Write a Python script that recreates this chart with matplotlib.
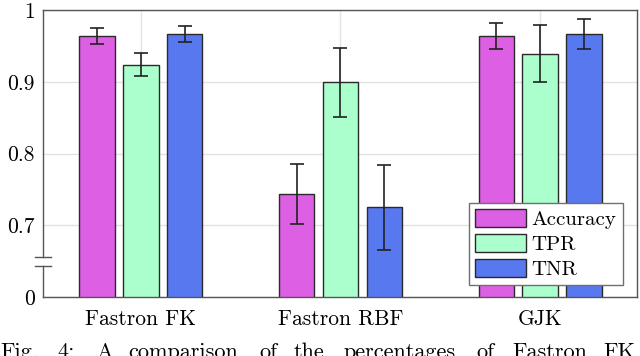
import matplotlib
matplotlib.use('Agg')
import matplotlib.pyplot as plt
import numpy as np

plt.rcParams['font.family'] = ['cmr10', 'DejaVu Serif']
plt.rcParams['axes.formatter.use_mathtext'] = True

groups = ['Fastron FK', 'Fastron RBF', 'GJK']
metrics = ['Accuracy', 'TPR', 'TNR']
accuracy = [0.964, 0.744, 0.964]
accuracy_err = [0.011, 0.042, 0.018]
tpr = [0.924, 0.899, 0.939]
tpr_err = [0.016, 0.048, 0.040]
tnr = [0.967, 0.725, 0.966]
tnr_err = [0.011, 0.059, 0.021]
colors = ['#dd5fe3', '#aaffcc', '#5878f0']

yticks = [0.6, 0.7, 0.8, 0.9, 1.0]
ytick_labels = ['0', '0.7', '0.8', '0.9', '1']

caption_words = ['Fig.', '4:', 'A', 'comparison', 'of', 'the', 'percentages',
                 'of', 'Fastron', 'FK']
caption_x = [0, 57, 96, 128, 259, 294, 343, 476, 512, 603]

fig = plt.figure(figsize=(6.4, 3.56), dpi=100)
ax = fig.add_axes([0.0672, 0.1657, 0.9281, 0.8062])

x = np.arange(len(groups))
w = 0.1775
step = 0.22
series = [(accuracy, accuracy_err), (tpr, tpr_err), (tnr, tnr_err)]
for i, (vals, errs) in enumerate(series):
    ax.bar(x + (i - 1) * step, vals, w, color=colors[i], edgecolor='#2a2a2a',
           linewidth=1.0, label=metrics[i], zorder=2)
    ax.errorbar(x + (i - 1) * step, vals, yerr=errs, fmt='none', ecolor='#222222',
                elinewidth=1.2, capsize=5, capthick=1.2, zorder=3)

ax.set_xlim(-0.49, 2.485)
ax.set_ylim(0.6, 1.0)
ax.set_yticks(yticks)
ax.set_yticklabels(ytick_labels)
ax.set_xticks(x)
ax.set_xticklabels(groups)
ax.tick_params(axis='both', length=0, labelsize=15.5)
ax.tick_params(axis='x', pad=9)
ax.tick_params(axis='y', pad=6)
ax.grid(True, color='#e2e2e2', linewidth=1.0, zorder=0)
ax.set_axisbelow(True)

for s in ['top', 'right', 'bottom']:
    ax.spines[s].set_color('#555555')
    ax.spines[s].set_linewidth(1.0)
ax.spines['left'].set_visible(False)

# broken y axis
b0, b1 = 0.1075, 0.139
ax.plot([0, 0], [0, b0], transform=ax.transAxes, color='#555555', lw=1.0, clip_on=False)
ax.plot([0, 0], [b1, 1], transform=ax.transAxes, color='#555555', lw=1.0, clip_on=False)
for yb in (b0, b1):
    ax.plot([-0.0135, 0.0135], [yb, yb], transform=ax.transAxes, color='#555555',
            lw=1.0, clip_on=False)

leg = ax.legend(loc='lower right', bbox_to_anchor=(0.976, 0.042), fontsize=15,
                frameon=True, fancybox=False, framealpha=1, edgecolor='#707070',
                borderaxespad=0, handlelength=2.45, handleheight=0.95,
                handletextpad=0.25, labelspacing=0.22, borderpad=0.3)
leg.get_frame().set_linewidth(1.0)

for word, px in zip(caption_words, caption_x):
    fig.text(px / 640, -2 / 356, word, fontsize=16, va='baseline', ha='left')

fig.savefig('out.png', dpi=100)
